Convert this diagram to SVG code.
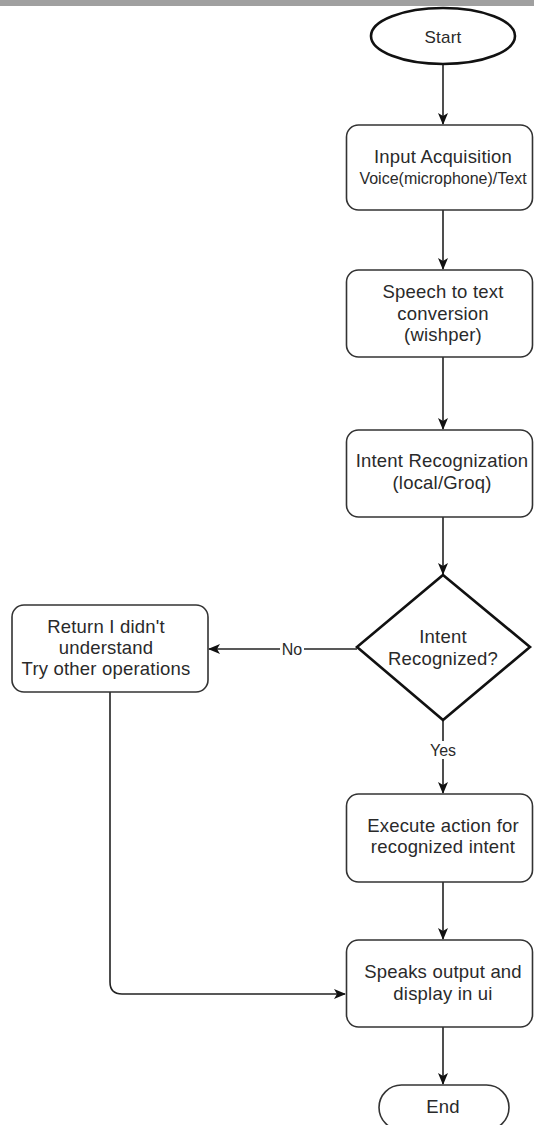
<svg xmlns="http://www.w3.org/2000/svg" width="534" height="1125" viewBox="0 0 534 1125">
<style>
.box{fill:#fff;stroke:#333;stroke-width:1.6}
.thick{fill:#fff;stroke:#111;stroke-width:2.6}
.t{font-family:"Liberation Sans",Arial,sans-serif;font-size:18.5px;letter-spacing:0.2px;fill:#2a2a2a;text-anchor:middle}
.s{font-size:16px;letter-spacing:0}
.c{fill:none;stroke:#222;stroke-width:1.6}
</style>
<defs>
<marker id="ah" viewBox="0 0 12 10" refX="11" refY="5" markerWidth="12" markerHeight="10" markerUnits="userSpaceOnUse" orient="auto">
<path d="M0,0 L12,5 L0,10 L3,5 Z" fill="#111"/>
</marker>
</defs>
<rect x="0" y="0" width="534" height="6" fill="#a0a0a0"/>
<g id="connectors">
<line class="c" x1="443" y1="64" x2="443" y2="124" marker-end="url(#ah)"/>
<line class="c" x1="443" y1="210" x2="443" y2="269" marker-end="url(#ah)"/>
<line class="c" x1="443" y1="357" x2="443" y2="429" marker-end="url(#ah)"/>
<line class="c" x1="443" y1="517" x2="443" y2="574" marker-end="url(#ah)"/>
<line class="c" x1="357" y1="649" x2="209" y2="649" marker-end="url(#ah)"/>
<line class="c" x1="443" y1="720" x2="443" y2="793" marker-end="url(#ah)"/>
<line class="c" x1="443" y1="882" x2="443" y2="939" marker-end="url(#ah)"/>
<path class="c" d="M110,692 V982 Q110,994 122,994 H345" marker-end="url(#ah)"/>
<line class="c" x1="443" y1="1027" x2="443" y2="1084" marker-end="url(#ah)"/>
<rect x="280" y="640" width="24" height="18" fill="#fff"/>
<text class="t s" x="292" y="655">No</text>
<rect x="429" y="741" width="28" height="18" fill="#fff"/>
<text class="t s" x="443" y="756">Yes</text>
</g>
<g id="start">
<ellipse class="thick" cx="443" cy="36" rx="72" ry="28"/>
<text class="t" x="443" y="43" style="font-size:17px">Start</text>
</g>
<g id="input">
<rect class="box" x="346.5" y="125" width="186" height="85" rx="12"/>
<text class="t" x="443" y="163">Input Acquisition</text>
<text class="t s" x="443" y="184">Voice(microphone)/Text</text>
</g>
<g id="stt">
<rect class="box" x="346.5" y="270" width="186" height="87" rx="12"/>
<text class="t" x="443" y="298">Speech to text</text>
<text class="t" x="443" y="320">conversion</text>
<text class="t" x="443" y="341">(wishper)</text>
</g>
<g id="intent">
<rect class="box" x="346.5" y="430" width="186" height="87" rx="12"/>
<text class="t" x="442" y="467">Intent Recognization</text>
<text class="t" x="442" y="489">(local/Groq)</text>
</g>
<g id="decision">
<polygon class="thick" points="443,575 530,647 443,720 357,647"/>
<text class="t" x="443" y="643">Intent</text>
<text class="t" x="443" y="665">Recognized?</text>
</g>
<g id="fallback">
<rect class="box" x="12" y="605" width="196" height="87" rx="12"/>
<text class="t" x="106" y="633">Return I didn't</text>
<text class="t" x="106" y="654">understand</text>
<text class="t" x="106" y="675">Try other operations</text>
</g>
<g id="execute">
<rect class="box" x="346.5" y="794" width="186" height="88" rx="12"/>
<text class="t" x="443" y="832">Execute action for</text>
<text class="t" x="443" y="853">recognized intent</text>
</g>
<g id="speak">
<rect class="box" x="346.5" y="940" width="186" height="87" rx="12"/>
<text class="t" x="443" y="978">Speaks output and</text>
<text class="t" x="443" y="1000">display in ui</text>
</g>
<g id="end">
<rect class="box" x="379" y="1085" width="130" height="45" rx="22.5"/>
<text class="t" x="443" y="1113">End</text>
</g>
</svg>
